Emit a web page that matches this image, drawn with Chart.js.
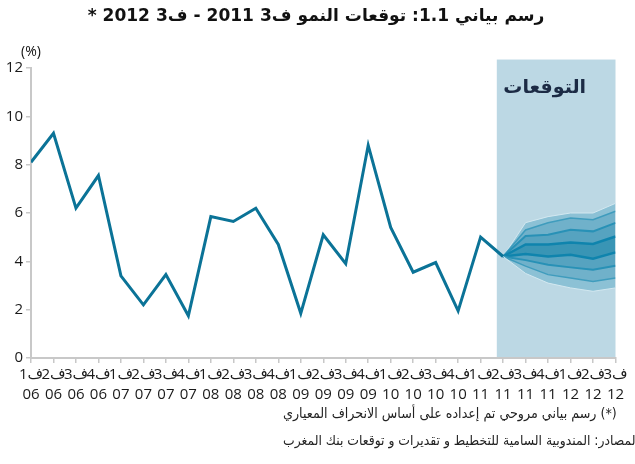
<!DOCTYPE html>
<html>
<head>
<meta charset="utf-8">
<script src="https://cdn.jsdelivr.net/npm/chart.js@4.4.1/dist/chart.umd.min.js"></script>
<style>
  html, body { margin: 0; padding: 0; background: #fff; }
  #wrap { width: 635px; height: 464px; position: relative; }
</style>
</head>
<body>
<div id="wrap"><canvas id="growthChart" width="635" height="464"></canvas></div>
<script>
const quarterLabels = ['ف1', 'ف2', 'ف3', 'ف4', 'ف1', 'ف2', 'ف3', 'ف4', 'ف1', 'ف2', 'ف3', 'ف4',
    'ف1', 'ف2', 'ف3', 'ف4', 'ف1', 'ف2', 'ف3', 'ف4', 'ف1', 'ف2', 'ف3', 'ف4', 'ف1', 'ف2', 'ف3'];
const yearLabels = ['06', '06', '06', '06', '07', '07', '07', '07', '08', '08', '08', '08',
    '09', '09', '09', '09', '10', '10', '10', '10', '11', '11', '11', '11', '12', '12', '12'];

// actual growth, Q1 2006 .. Q2 2011
const growth = [8.1, 9.3, 6.2, 7.55, 3.4, 2.2, 3.45, 1.75, 5.85, 5.65, 6.2, 4.7,
    1.85, 5.1, 3.9, 8.8, 5.4, 3.55, 3.95, 1.95, 5.0, 4.2];

// fan chart bands, Q2 2011 .. Q3 2012
const fanQuarters = [21, 22, 23, 24, 25, 26];
const fanLow3 = [4.2, 3.5, 3.1, 2.9, 2.76, 2.9];
const fanLow2 = [4.2, 3.8, 3.45, 3.31, 3.17, 3.31];
const fanLow1 = [4.2, 4.05, 3.86, 3.75, 3.65, 3.82];
const fanMidLow = [4.2, 4.3, 4.2, 4.27, 4.11, 4.37];
const fanMidHigh = [4.2, 4.7, 4.7, 4.78, 4.72, 5.03];
const fanHigh1 = [4.2, 5.05, 5.1, 5.31, 5.24, 5.59];
const fanHigh2 = [4.2, 5.3, 5.6, 5.79, 5.72, 6.07];
const fanHigh3 = [4.2, 5.6, 5.85, 6.0, 6.0, 6.4];

const yTicks = [0, 2, 4, 6, 8, 10, 12];

// forecast zone
const shadeFrom = 20.72;
const shadeTo = 26;
const shadeTop = 12.35;
const forecastText = 'التوقعات';
const forecastTextAt = [22.85, 11.15];

const titleText = 'رسم بياني 1.1: توقعات النمو ف3 2011 - ف3 2012 *';
const noteLines = [
    '(*) رسم بياني مروحي تم إعداده على أساس الانحراف المعياري',
    'المصادر: المندوبية السامية للتخطيط و تقديرات و توقعات بنك المغرب'
];
const unitText = '(%)';

const FONT = '"Open Sans", "DejaVu Sans", sans-serif';
const AR_FONT = '"DejaVu Sans", sans-serif';
const NOTE_FONT = '"DejaVu Sans Condensed", "DejaVu Sans", sans-serif';

function series(values, startIdx) {
    return values.map((v, i) => ({ x: startIdx + i, y: v }));
}
function fanSeries(values) {
    return values.map((v, i) => ({ x: fanQuarters[i], y: v }));
}

// font size that makes text span the wanted width
function fitFont(ctx, text, weight, family, targetW) {
    ctx.font = weight + ' 20px ' + family;
    const size = 20 * targetW / ctx.measureText(text).width;
    ctx.font = weight + ' ' + size.toFixed(2) + 'px ' + family;
}

const decorPlugin = {
    id: 'decor',
    beforeDraw(chart) {
        const { ctx, scales: { x, y } } = chart;
        ctx.save();
        ctx.fillStyle = '#fff';
        ctx.fillRect(0, 0, chart.width, chart.height);

        const left = x.getPixelForValue(shadeFrom);
        const right = x.getPixelForValue(shadeTo);
        const top = y.getPixelForValue(shadeTop);
        const bottom = y.getPixelForValue(0) - 1;
        ctx.fillStyle = '#bcd8e4';
        ctx.fillRect(left, top, right - left, bottom - top);

        ctx.fillStyle = '#1c2b45';
        ctx.font = 'bold 19px ' + AR_FONT;
        ctx.textAlign = 'center';
        ctx.textBaseline = 'middle';
        ctx.fillText(forecastText, x.getPixelForValue(forecastTextAt[0]), y.getPixelForValue(forecastTextAt[1]));
        ctx.restore();
    },
    afterDraw(chart) {
        const { ctx } = chart;
        ctx.save();
        ctx.textBaseline = 'middle';

        ctx.font = '14px ' + FONT;
        ctx.fillStyle = '#111';
        ctx.textAlign = 'center';
        ctx.fillText(unitText, 31, 52);

        ctx.direction = 'rtl';
        fitFont(ctx, titleText, 'bold', AR_FONT, 457);
        ctx.textAlign = 'center';
        ctx.fillText(titleText, 316, 17);

        ctx.fillStyle = '#222';
        ctx.textAlign = 'left';
        fitFont(ctx, noteLines[0], 'normal', NOTE_FONT, 334);
        ctx.fillText(noteLines[0], 283, 414);
        fitFont(ctx, noteLines[1], 'normal', NOTE_FONT, 356);
        ctx.fillText(noteLines[1], 283, 441);
        ctx.restore();
    }
};

const fanLine = (color, width) => ({ borderColor: color, borderWidth: width, pointRadius: 0, tension: 0 });

new Chart(document.getElementById('growthChart'), {
    type: 'line',
    data: {
        datasets: [
            {
                label: 'growth',
                data: series(growth, 0),
                borderColor: '#0b7397',
                borderWidth: 3,
                pointRadius: 0,
                tension: 0,
                fill: false
            },
            { data: fanSeries(fanLow3), ...fanLine('#d3e8f0', 1), fill: false },
            { data: fanSeries(fanLow2), ...fanLine('#3f9cbd', 1.5), fill: { target: '-1' }, backgroundColor: '#8cc1d5' },
            { data: fanSeries(fanLow1), ...fanLine('#2891b6', 2), fill: { target: '-1' }, backgroundColor: '#70b1ca' },
            { data: fanSeries(fanMidLow), ...fanLine('#0f84ad', 2.5), fill: { target: '-1' }, backgroundColor: '#56a3c0' },
            { data: fanSeries(fanMidHigh), ...fanLine('#0f84ad', 2.5), fill: { target: '-1' }, backgroundColor: '#3995b5' },
            { data: fanSeries(fanHigh1), ...fanLine('#2891b6', 2), fill: { target: '-1' }, backgroundColor: '#56a3c0' },
            { data: fanSeries(fanHigh2), ...fanLine('#3f9cbd', 1.5), fill: { target: '-1' }, backgroundColor: '#70b1ca' },
            { data: fanSeries(fanHigh3), ...fanLine('#d3e8f0', 1), fill: { target: '-1' }, backgroundColor: '#8cc1d5' }
        ]
    },
    options: {
        responsive: false,
        animation: false,
        layout: { padding: { top: 68, right: 19.5, bottom: 60, left: 0 } },
        plugins: {
            legend: { display: false },
            tooltip: { enabled: false }
        },
        scales: {
            x: {
                type: 'linear',
                min: 0,
                max: 26,
                afterFit(scale) { scale.height = 46; },
                border: { color: '#c8c8c8', width: 2 },
                grid: { drawOnChartArea: false, drawTicks: true, tickLength: 5, color: '#c8c8c8', lineWidth: 1.5 },
                ticks: {
                    stepSize: 1,
                    autoSkip: false,
                    maxRotation: 0,
                    padding: 2,
                    color: '#1a1a1a',
                    font: { family: FONT, size: 15, lineHeight: 1.3 },
                    callback: (v) => [quarterLabels[v], yearLabels[v]]
                }
            },
            y: {
                min: 0,
                max: 12,
                afterFit(scale) { scale.width = 31; },
                afterBuildTicks(scale) { scale.ticks = yTicks.map(v => ({ value: v })); },
                border: { color: '#c8c8c8', width: 2 },
                grid: { drawOnChartArea: false, drawTicks: true, tickLength: 5, color: '#c8c8c8', lineWidth: 1.5 },
                ticks: {
                    padding: 3,
                    color: '#1a1a1a',
                    font: { family: FONT, size: 15 }
                }
            }
        }
    },
    plugins: [decorPlugin]
});
</script>
</body>
</html>
